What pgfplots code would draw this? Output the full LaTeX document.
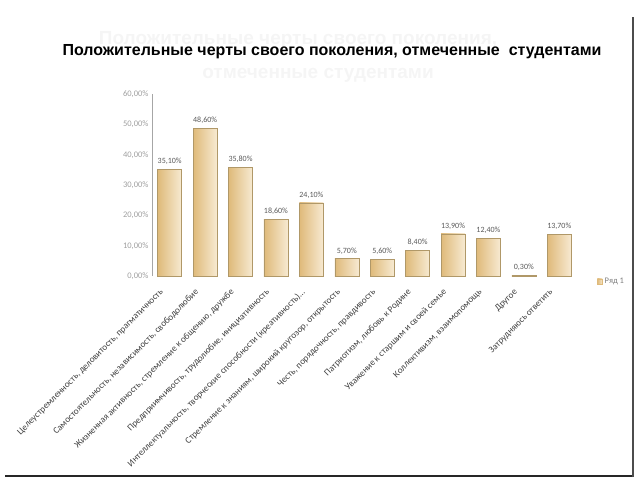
\documentclass[border=0pt]{standalone}
\usepackage{fontspec}
\setmainfont{Carlito}
\newfontfamily\titlefont{Liberation Sans}
\usepackage{pgfplots}
\pgfplotsset{compat=1.18}
\definecolor{barL}{HTML}{DFBA7A}
\definecolor{barR}{HTML}{F7EAD2}
\definecolor{barEdge}{HTML}{B09868}
\pgfplotsset{mybar/.style={ybar, bar width=24pt, bar shift=0pt, left color=barL, right color=barR, draw=barEdge, line width=0.5pt,
  nodes near coords={\pgfmathprintnumber[fixed,fixed zerofill,precision=2,use comma]{\pgfplotspointmeta}\%},
  nodes near coords style={font=\fontsize{8}{9}\selectfont, text=black!65, yshift=1pt}}}
\begin{document}
\begin{tikzpicture}
\useasboundingbox (0pt,0pt) rectangle (640pt,480pt);
\node[font=\titlefont\bfseries\fontsize{19}{21}\selectfont, text=gray!8] at (298pt,440pt) {Положительные черты своего поколения,};
\node[font=\titlefont\bfseries\fontsize{19}{21}\selectfont, text=gray!8] at (318pt,405pt) {отмеченные студентами};
\node[font=\titlefont\bfseries\fontsize{16}{18}\selectfont] at (332pt,428pt) {Положительные черты своего поколения, отмеченные\ \ студентами};
\begin{axis}[
  at={(152pt,204pt)}, anchor=south west,
  scale only axis, width=425pt, height=182pt,
  xmin=-0.5, xmax=11.5, ymin=0, ymax=60,
  axis lines*=left,
  x axis line style={draw=none},
  y axis line style={draw=gray!70, line width=0.6pt},
  major tick length=0pt,
  /pgf/number format/assume math mode=true,
  ytick={0,10,20,30,40,50,60},
  yticklabel={\pgfmathprintnumber[fixed,fixed zerofill,precision=2,use comma]{\tick}\%},
  yticklabel style={font=\fontsize{8.5}{9}\selectfont, text=gray!75},
  xtick={0,1,2,3,4,5,6,7,8,9,10,11},
  xticklabels={
    {Целеустремленность, деловитость, прагматичность},
    {Самостоятельность, независимость, свободолюбие},
    {Жизненная активность, стремление к общению, дружбе},
    {Предприимчивость, трудолюбие, инициативность},
    {Интеллектуальность, творческие способности (креативность)\ldots},
    {Стремление к знаниям, широкий кругозор, открытость},
    {Честь, порядочность, правдивость},
    {Патриотизм, любовь к Родине},
    {Уважение к старшим и своей семье},
    {Коллективизм, взаимопомощь},
    {Другое},
    {Затрудняюсь ответить}},
  xticklabel style={font=\fontsize{9.2}{10}\selectfont, text=black!75, rotate=45, anchor=east, inner sep=1pt, xshift=-15pt, yshift=-5pt},
  legend style={draw=none, fill=none, at={(1.04,-0.03)}, anchor=west, font=\fontsize{8.5}{9}\selectfont, text=gray},
  legend image code/.code={\fill[barL] (0pt,-2.5pt) rectangle (5pt,2.5pt);},
]
\addplot[mybar] coordinates {(0,35.10)};
\addlegendentry{Ряд 1}
\addplot[mybar, forget plot] coordinates {(1,48.60)};
\addplot[mybar, forget plot] coordinates {(2,35.80)};
\addplot[mybar, forget plot] coordinates {(3,18.60)};
\addplot[mybar, forget plot] coordinates {(4,24.10)};
\addplot[mybar, forget plot] coordinates {(5,5.70)};
\addplot[mybar, forget plot] coordinates {(6,5.60)};
\addplot[mybar, forget plot] coordinates {(7,8.40)};
\addplot[mybar, forget plot] coordinates {(8,13.90)};
\addplot[mybar, forget plot] coordinates {(9,12.40)};
\addplot[mybar, forget plot] coordinates {(10,0.30)};
\addplot[mybar, forget plot] coordinates {(11,13.70)};
\end{axis}
\draw[line width=2.2pt, black!85] (5pt,4pt) -- (633pt,4pt);
\draw[line width=1.2pt, black!70] (633pt,3pt) -- (633pt,463pt);
\end{tikzpicture}
\end{document}
